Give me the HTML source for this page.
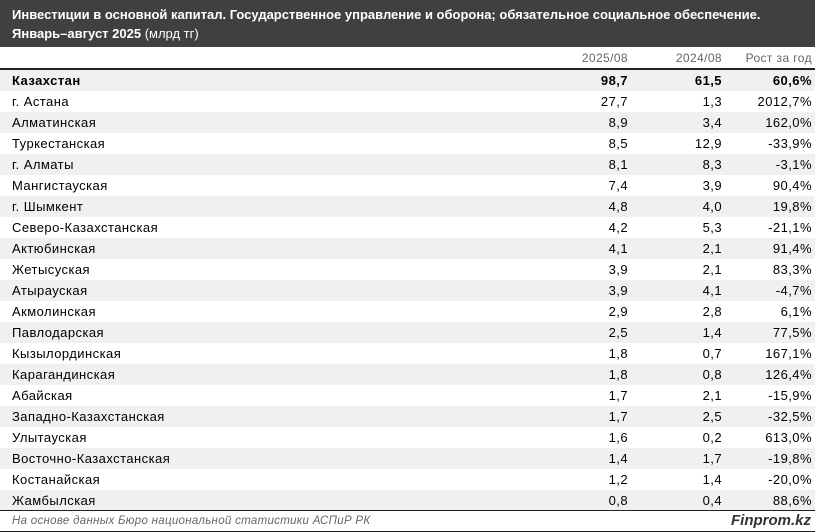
<!DOCTYPE html>
<html><head><meta charset="utf-8"><style>
body{margin:0;width:815px;height:532px;background:#fff;font-family:"Liberation Sans",sans-serif;overflow:hidden;position:relative}
.hd{position:absolute;left:0;top:0;width:815px;height:47px;background:#404040;color:#fff;font-size:13px;font-weight:bold;line-height:19px;padding:5px 0 0 12px;box-sizing:border-box}
.hd span{font-weight:normal}
.ch{position:absolute;top:48px;height:21px;line-height:21px;font-size:12px;letter-spacing:0.4px;color:#666;text-align:right}
.row{position:absolute;left:0;width:815px;height:21px;line-height:21px;font-size:13px;letter-spacing:0.45px;color:#000}
.row.g{background:#f0f0f0}
.row div{position:absolute;top:0}
.n{left:12px}
.a{right:187px}.b{right:93px}.c{right:3px}
.ln{position:absolute;left:0;width:815px;height:1px;background:#222}
.ft{position:absolute;top:512px;left:12px;font-size:11.5px;letter-spacing:0.3px;font-style:italic;color:#666;line-height:18px}
.lg{position:absolute;top:511px;right:4px;font-size:15px;font-style:italic;font-weight:bold;color:#333;line-height:20px}
</style></head><body>
<div class="hd">Инвестиции в основной капитал. Государственное управление и оборона; обязательное социальное обеспечение.<br>Январь–август 2025 <span>(млрд тг)</span></div>
<div class="ch" style="right:187px">2025/08</div>
<div class="ch" style="right:93px">2024/08</div>
<div class="ch" style="right:3px">Рост за год</div>
<div class="ln" style="top:68px;height:2px"></div>
<div id="t"></div>
<div class="ln" style="top:510px"></div>
<div class="ft">На основе данных Бюро национальной статистики АСПиР РК</div>
<div class="lg">Finprom.kz</div>
<div class="ln" style="top:531px"></div>
<script>
var d=[["Казахстан","98,7","61,5","60,6%"],["г. Астана","27,7","1,3","2012,7%"],["Алматинская","8,9","3,4","162,0%"],["Туркестанская","8,5","12,9","-33,9%"],["г. Алматы","8,1","8,3","-3,1%"],["Мангистауская","7,4","3,9","90,4%"],["г. Шымкент","4,8","4,0","19,8%"],["Северо-Казахстанская","4,2","5,3","-21,1%"],["Актюбинская","4,1","2,1","91,4%"],["Жетысуская","3,9","2,1","83,3%"],["Атырауская","3,9","4,1","-4,7%"],["Акмолинская","2,9","2,8","6,1%"],["Павлодарская","2,5","1,4","77,5%"],["Кызылординская","1,8","0,7","167,1%"],["Карагандинская","1,8","0,8","126,4%"],["Абайская","1,7","2,1","-15,9%"],["Западно-Казахстанская","1,7","2,5","-32,5%"],["Улытауская","1,6","0,2","613,0%"],["Восточно-Казахстанская","1,4","1,7","-19,8%"],["Костанайская","1,2","1,4","-20,0%"],["Жамбылская","0,8","0,4","88,6%"]];
var h="";d.forEach(function(r,i){h+='<div class="row'+(i%2==0?' g':'')+'" style="top:'+(70+i*21)+'px;'+(i==0?'font-weight:bold':'')+'"><div class="n">'+r[0]+'</div><div class="a">'+r[1]+'</div><div class="b">'+r[2]+'</div><div class="c">'+r[3]+'</div></div>';});
document.getElementById("t").innerHTML=h;
</script>
</body></html>
